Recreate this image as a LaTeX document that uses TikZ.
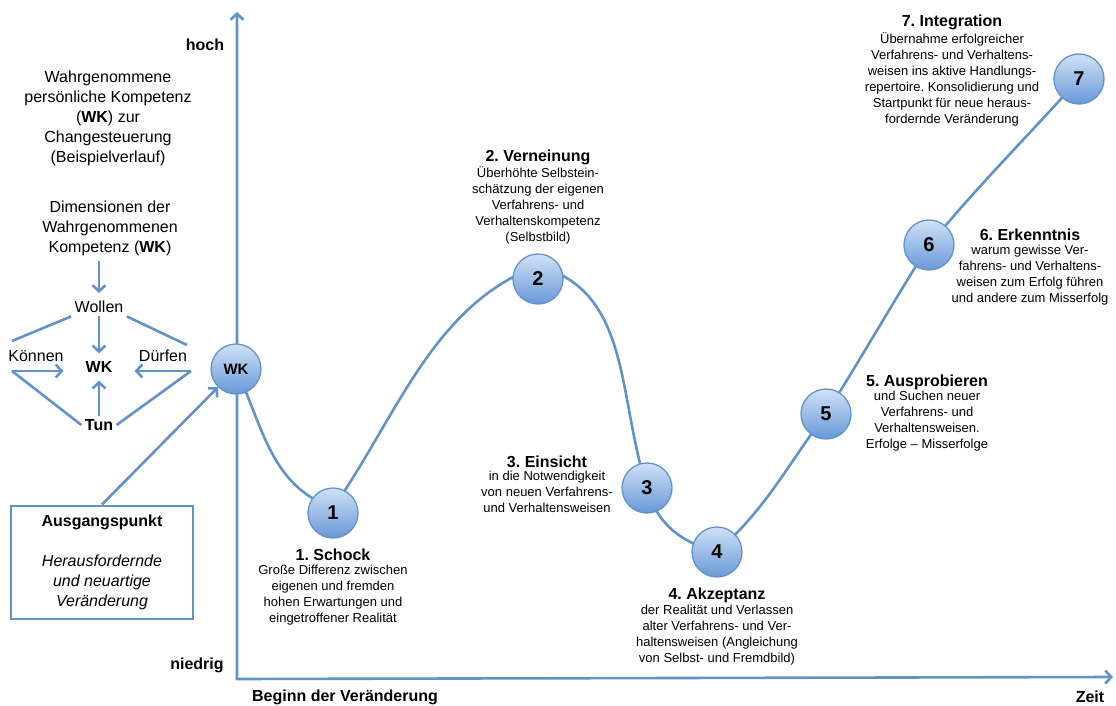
\documentclass[tikz,border=0pt]{standalone}
\usepackage{fontspec}
\setmainfont{Liberation Sans}
\frenchspacing
\usetikzlibrary{arrows.meta,backgrounds}
\definecolor{wkblue}{RGB}{98,146,204}
\definecolor{balltop}{RGB}{208,225,246}
\definecolor{ballbot}{RGB}{104,152,216}
\begin{document}
\begin{tikzpicture}[x=1pt,y=1pt,
    line/.style={draw=wkblue,line width=2.6pt},
    arr/.style={line,-{Straight Barb[length=6pt,width=13pt]}},
    ball/.style={circle,minimum size=50pt,inner sep=0pt,draw=wkblue,line width=1.3pt,
	top color=balltop,bottom color=ballbot,font=\fontsize{20}{20}\selectfont\bfseries},
    head/.style={font=\fontsize{16}{18}\selectfont\bfseries,inner sep=0pt},
    body/.style={align=center,anchor=north,inner sep=0pt,font=\fontsize{13}{16}\selectfont},
    side/.style={align=center,font=\fontsize{16}{20}\selectfont}]
\useasboundingbox (0,0) rectangle (1116,-706);

% axes
\coordinate (ytop) at (237,-12);
\coordinate (orig) at (237,-679);
\coordinate (xend) at (1113,-677);
\draw[line,{Straight Barb[length=6pt,width=13pt]}-{Straight Barb[length=6pt,width=13pt]}]
    (ytop) -- (orig) -- (xend);
\node[head] (hoch) at (205,-45) {hoch};
\node[head] (niedrig) at (197,-665) {niedrig};
\node[head] (beginn) at (345,-697) {Beginn der Veränderung};
\node[head] (zeit) at (1090,-697) {Zeit};

% left: title and dimensions
\node[side] (title) at (108,-118)
    {Wahrgenommene\\persönliche Kompetenz\\(\textbf{WK}) zur\\Changesteuerung\\(Beispielverlauf)};
\node[side] (dims) at (110,-228)
    {Dimensionen der\\Wahrgenommenen\\Kompetenz (\textbf{WK})};
\node[side] (wollen) at (99,-307) {Wollen};
\node[side,font=\fontsize{16}{20}\selectfont\bfseries,inner xsep=22pt,inner ysep=8pt]
    (wkc) at (99,-367) {WK};
\node[side] (koennen) at (36,-356) {Können};
\node[side] (duerfen) at (163,-356) {Dürfen};
\node[side,font=\fontsize{16}{20}\selectfont\bfseries] (tun) at (99,-425) {Tun};
\coordinate (kt) at (12,-341);
\coordinate (kb) at (12,-371);
\coordinate (dt) at (187,-345);
\coordinate (db) at (191,-371);
\draw[arr] (dims.south -| wollen) ++(0,-2) -- ++(0,-32);
\draw[arr] (wollen) -- (wkc);
\draw[arr] (tun) -- (wkc);
\draw[line] (wollen.south west) -- (kt);
\draw[line] (wollen.south east) -- (dt);
\draw[line] (tun.west) -- (kb);
\draw[line] (tun.east) -- (db);
\draw[arr] (kb) -- (kb -| wkc.west);
\draw[arr] (db) -- (db -| wkc.east);

% starting point
\node[draw=wkblue,line width=2pt,minimum width=182pt,minimum height=113pt,
    align=center,font=\fontsize{16}{20}\selectfont] (start) at (102,-562)
    {\textbf{Ausgangspunkt}\\[20pt]\textit{Herausfordernde}\\\textit{und neuartige}\\\textit{Veränderung}};

% phases
\node[ball,font=\fontsize{15}{15}\selectfont\bfseries] (wk) at (236,-369) {WK};
\node[ball] (c1) at (333,-513) {1};
\node[ball] (c2) at (538,-279) {2};
\node[ball] (c3) at (647,-488) {3};
\node[ball] (c4) at (717,-552) {4};
\node[ball] (c5) at (826,-414) {5};
\node[ball] (c6) at (929,-245) {6};
\node[ball] (c7) at (1079,-79) {7};
\draw[arr] (start.north) -- (wk);
\begin{scope}[on background layer]
\draw[line] (wk.center) to[out=-65,in=160] ([yshift=5pt]c1.center)
    to[out=55,in=200,looseness=.9] ([yshift=13pt]c2.center)
    to[out=-15,in=108] (c3.center) to[out=-75,in=165] (c4.center)
    to[out=42,in=233] (c5.center) to[out=58,in=238] (c6.center)
    to[out=50,in=228] (c7.center);
\end{scope}

\node[head] (h1) at (333,-555) {1. Schock};
\node[body] (b1) at (333,-565)
    {Große Differenz zwischen\\eigenen und fremden\\hohen Erwartungen und\\eingetroffener Realität};
\node[head] (h2) at (538,-157) {2. Verneinung};
\node[body] (b2) at (538,-166)
    {Überhöhte Selbstein-\\schätzung der eigenen\\Verfahrens- und\\Verhaltenskompetenz\\(Selbstbild)};
\node[head] (h3) at (547,-462) {3. Einsicht};
\node[body] (b3) at (547,-471)
    {in die Notwendigkeit\\von neuen Verfahrens-\\und Verhaltensweisen};
\node[head] (h4) at (717,-595) {4. Akzeptanz};
\node[body] (b4) at (717,-605)
    {der Realität und Verlassen\\alter Verfahrens- und Ver-\\haltensweisen (Angleichung\\von Selbst- und Fremdbild)};
\node[head] (h5) at (927,-382) {5. Ausprobieren};
\node[body] (b5) at (927,-391)
    {und Suchen neuer\\Verfahrens- und\\Verhaltensweisen.\\Erfolge -- Misserfolge};
\node[head] (h6) at (1030,-235) {6. Erkenntnis};
\node[body] (b6) at (1030,-245)
    {warum gewisse Ver-\\fahrens- und Verhaltens-\\weisen zum Erfolg führen\\und andere zum Misserfolg};
\node[head] (h7) at (952,-22) {7. Integration};
\node[body] (b7) at (952,-32)
    {Übernahme erfolgreicher\\Verfahrens- und Verhaltens-\\weisen ins aktive Handlungs-\\repertoire. Konsolidierung und\\Startpunkt für neue heraus-\\fordernde Veränderung};
\end{tikzpicture}
\end{document}
